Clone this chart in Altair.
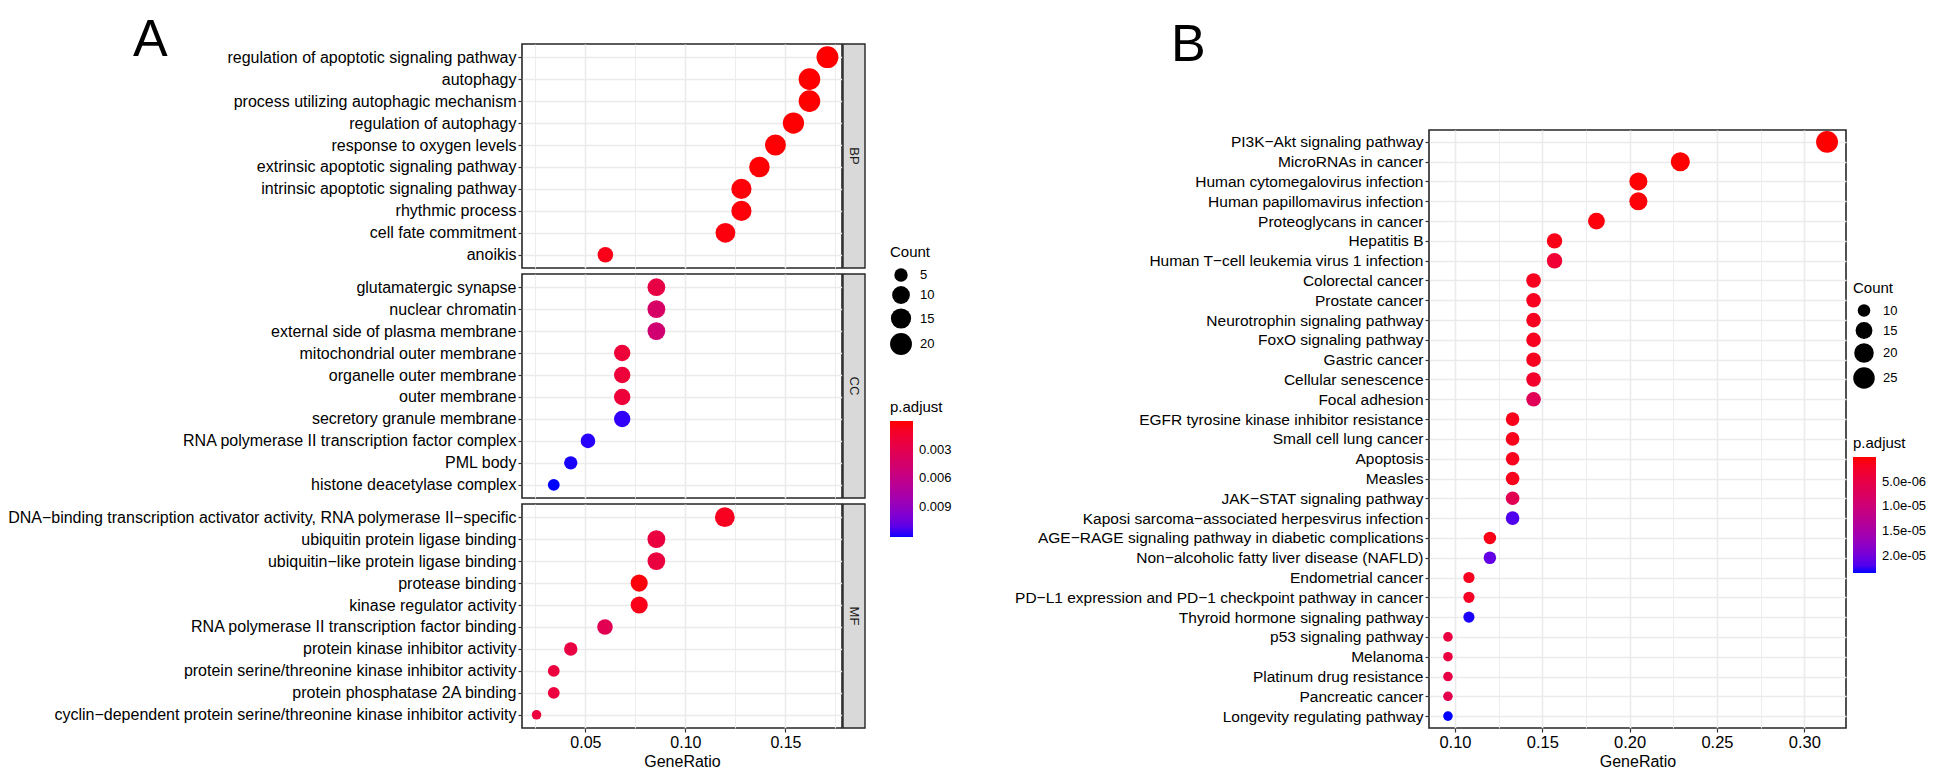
import altair as alt
import pandas as pd

FONT = "Liberation Sans, Arial, Helvetica, sans-serif"
LETTER_FONT = "Liberation Sans Narrow, Liberation Sans, Arial, sans-serif"

# ---------------- Panel A data ----------------
bp_terms = ["regulation of apoptotic signaling pathway", "autophagy",
            "process utilizing autophagic mechanism", "regulation of autophagy",
            "response to oxygen levels", "extrinsic apoptotic signaling pathway",
            "intrinsic apoptotic signaling pathway", "rhythmic process",
            "cell fate commitment", "anoikis"]
bp_ratio = [0.171, 0.162, 0.162, 0.154, 0.145, 0.137, 0.128, 0.128, 0.120, 0.060]
bp_count = [20, 19, 19, 18, 17, 16, 15, 15, 14, 7]
bp_padj = [0.00002, 0.00003, 0.00003, 0.00005, 0.00008, 0.0001, 0.0002, 0.0002, 0.0003, 0.0006]

cc_terms = ["glutamatergic synapse", "nuclear chromatin", "external side of plasma membrane",
            "mitochondrial outer membrane", "organelle outer membrane", "outer membrane",
            "secretory granule membrane", "RNA polymerase II transcription factor complex",
            "PML body", "histone deacetylase complex"]
cc_ratio = [0.0855, 0.0855, 0.0855, 0.0684, 0.0684, 0.0684, 0.0684, 0.0513, 0.0427, 0.0342]
cc_count = [10, 10, 10, 8, 8, 8, 8, 6, 5, 4]
cc_padj = [0.0025, 0.0042, 0.0048, 0.0019, 0.0019, 0.0019, 0.0118, 0.0119, 0.0120, 0.0121]

mf_terms = ["DNA−binding transcription activator activity, RNA polymerase II−specific",
            "ubiquitin protein ligase binding", "ubiquitin−like protein ligase binding",
            "protease binding", "kinase regulator activity",
            "RNA polymerase II transcription factor binding", "protein kinase inhibitor activity",
            "protein serine/threonine kinase inhibitor activity", "protein phosphatase 2A binding",
            "cyclin−dependent protein serine/threonine kinase inhibitor activity"]
mf_ratio = [0.1197, 0.0855, 0.0855, 0.0769, 0.0769, 0.0598, 0.0427, 0.0342, 0.0342, 0.0256]
mf_count = [14, 10, 10, 9, 9, 7, 5, 4, 4, 3]
mf_padj = [0.0008, 0.0022, 0.0022, 0.0002, 0.0006, 0.0032, 0.0024, 0.0021, 0.0021, 0.0021]

a_xticks = [0.025, 0.05, 0.075, 0.10, 0.125, 0.15, 0.175]
a_count_legend = [5, 10, 15, 20]
a_padj_legend = [0.003, 0.006, 0.009]

# ---------------- Panel B data ----------------
b_terms = ["PI3K−Akt signaling pathway", "MicroRNAs in cancer", "Human cytomegalovirus infection",
           "Human papillomavirus infection", "Proteoglycans in cancer", "Hepatitis B",
           "Human T−cell leukemia virus 1 infection", "Colorectal cancer", "Prostate cancer",
           "Neurotrophin signaling pathway", "FoxO signaling pathway", "Gastric cancer",
           "Cellular senescence", "Focal adhesion", "EGFR tyrosine kinase inhibitor resistance",
           "Small cell lung cancer", "Apoptosis", "Measles", "JAK−STAT signaling pathway",
           "Kaposi sarcoma−associated herpesvirus infection",
           "AGE−RAGE signaling pathway in diabetic complications",
           "Non−alcoholic fatty liver disease (NAFLD)", "Endometrial cancer",
           "PD−L1 expression and PD−1 checkpoint pathway in cancer",
           "Thyroid hormone signaling pathway", "p53 signaling pathway", "Melanoma",
           "Platinum drug resistance", "Pancreatic cancer", "Longevity regulating pathway"]
b_ratio = [0.313, 0.229, 0.205, 0.205, 0.181, 0.157, 0.157, 0.145, 0.145, 0.145, 0.145, 0.145,
           0.145, 0.145, 0.133, 0.133, 0.133, 0.133, 0.133, 0.133, 0.120, 0.120, 0.108, 0.108,
           0.108, 0.096, 0.096, 0.096, 0.096, 0.096]
b_count = [26, 19, 17, 17, 15, 13, 13, 12, 12, 12, 12, 12, 12, 12, 11, 11, 11, 11, 11, 11,
           10, 10, 9, 9, 9, 8, 8, 8, 8, 8]
b_padj = [2e-9, 5e-9, 1e-7, 3e-7, 4e-7, 1.0e-6, 3.2e-6, 1.5e-6, 1.5e-6, 1.5e-6, 1.5e-6, 1.6e-6,
          2.5e-6, 6.5e-6, 1.2e-6, 1.2e-6, 1.3e-6, 1.4e-6, 6.0e-6, 2.2e-5, 1.0e-6, 2.1e-5,
          1.5e-6, 2.0e-6, 2.33e-5, 4.5e-6, 4.5e-6, 4.8e-6, 5.5e-6, 2.35e-5]

b_xticks = [0.10, 0.125, 0.15, 0.175, 0.20, 0.225, 0.25, 0.275, 0.30]
b_count_legend = [10, 15, 20, 25]
b_padj_legend = [5e-6, 1e-5, 1.5e-5, 2e-5]

# ---------------- helpers ----------------
MAJOR = "abs(datum.value*20 - round(datum.value*20)) < 0.000001"
SIZE_RANGE = [92, 479]


def padded(vals, frac=0.05):
    lo, hi = min(vals), max(vals)
    p = (hi - lo) * frac
    return [lo - p, hi + p]


def x_axis(vals, show, fs):
    kw = dict(values=vals, grid=True, gridColor="#EBEBEB",
              gridWidth={"condition": {"test": MAJOR, "value": 1.6}, "value": 0.9},
              domain=False)
    if show:
        kw.update(labels=True, ticks=True, tickSize=4, tickWidth=1.2,
                  tickColor={"condition": {"test": MAJOR, "value": "#333333"}, "value": "transparent"},
                  labelExpr=MAJOR + " ? format(datum.value, '.2f') : ''",
                  labelFontSize=fs, labelColor="black", labelPadding=2,
                  title="GeneRatio", titleFontSize=16, titleFontWeight="normal",
                  titleColor="black", titlePadding=3)
    else:
        kw.update(labels=False, ticks=False, title=None)
    return alt.Axis(**kw)


def y_axis(fs):
    return alt.Axis(title=None, labelFontSize=fs, labelColor="black", labelLimit=2000,
                    tickColor="#333333", tickSize=4, tickWidth=1.2, domain=False,
                    grid=True, gridColor="#EBEBEB", gridWidth=1.6, labelPadding=2)


def size_legend(values, lx, ly):
    return alt.Legend(title="Count", values=values, orient="none", legendX=lx, legendY=ly,
                      symbolFillColor="black", symbolStrokeColor="black", symbolStrokeWidth=0,
                      symbolOpacity=1, symbolType="circle",
                      titleFontSize=15, titleFontWeight="normal", titleColor="black",
                      titlePadding=8, labelFontSize=13, labelColor="black", rowPadding=4,
                      labelOffset=8)


def color_legend(values, lx, ly, label_expr=None, fmt=None):
    kw = dict(title="p.adjust", values=values, orient="none", legendX=lx, legendY=ly,
              direction="vertical", gradientLength=116, gradientThickness=23,
              gradientStrokeWidth=0, titleFontSize=15, titleFontWeight="normal",
              titleColor="black", titlePadding=6, labelFontSize=13, labelColor="black",
              labelOffset=6)
    if label_expr:
        kw["labelExpr"] = label_expr
    if fmt:
        kw["format"] = fmt
    return alt.Legend(**kw)


def dot_chart(terms, ratio, count, padj, xdom, xvals, show_x, cdom, sdom, W, H, sleg, cleg,
              yfs, xfs):
    df = pd.DataFrame({"term": terms, "GeneRatio": ratio, "Count": count, "padj": padj})
    return alt.Chart(df).mark_circle(opacity=1).encode(
        x=alt.X("GeneRatio:Q", scale=alt.Scale(domain=xdom, nice=False, zero=False),
                axis=x_axis(xvals, show_x, xfs)),
        y=alt.Y("term:N", sort=terms, scale=alt.Scale(padding=0.6), axis=y_axis(yfs)),
        size=alt.Size("Count:Q", scale=alt.Scale(type="pow", exponent=0.25, domain=sdom,
                                                 range=SIZE_RANGE, zero=False), legend=sleg),
        color=alt.Color("padj:Q", scale=alt.Scale(domain=cdom, range=["blue", "red"],
                                                  interpolate="lab", nice=False, zero=False),
                        legend=cleg),
    ).properties(width=W, height=H)


def strip(label, W, H):
    sdf = pd.DataFrame({"lab": [label]})
    rect = alt.Chart(sdf).mark_rect(fill="#D9D9D9", stroke="#262626", strokeWidth=1.4).encode(
        x=alt.value(W + 1), x2=alt.value(W + 23), y=alt.value(0), y2=alt.value(H))
    txt = alt.Chart(sdf).mark_text(angle=90, fontSize=13, color="#1A1A1A", font=FONT).encode(
        text="lab:N", x=alt.value(W + 12), y=alt.value(H / 2))
    return rect + txt


def letter(ch, dx, dy):
    ldf = pd.DataFrame({"lab": [ch]})
    return alt.Chart(ldf).mark_text(fontSize=52, font=LETTER_FONT, align="left",
                                    baseline="alphabetic", color="black").encode(
        text="lab:N", x=alt.value(dx), y=alt.value(dy))


# ---------------- Panel A ----------------
WA, HA = 320, 224
A_YFS, A_XFS = 16, 16
a_all_ratio = bp_ratio + cc_ratio + mf_ratio
a_all_padj = bp_padj + cc_padj + mf_padj
a_all_count = bp_count + cc_count + mf_count
a_xdom = padded(a_all_ratio)
a_cdom = [max(a_all_padj), min(a_all_padj)]
a_sdom = [min(a_all_count), max(a_all_count)]

a_sleg = size_legend(a_count_legend, 368, 201)
a_cleg = color_legend(a_padj_legend, 368, 356, fmt=".3f")

bp = alt.layer(
    dot_chart(bp_terms, bp_ratio, bp_count, bp_padj, a_xdom, a_xticks, False,
              a_cdom, a_sdom, WA, HA, a_sleg, a_cleg, A_YFS, A_XFS),
    strip("BP", WA, HA),
    letter("A", -389, 12),
)
cc = alt.layer(
    dot_chart(cc_terms, cc_ratio, cc_count, cc_padj, a_xdom, a_xticks, False,
              a_cdom, a_sdom, WA, HA, a_sleg, a_cleg, A_YFS, A_XFS),
    strip("CC", WA, HA),
)
mf = alt.layer(
    dot_chart(mf_terms, mf_ratio, mf_count, mf_padj, a_xdom, a_xticks, True,
              a_cdom, a_sdom, WA, HA, a_sleg, a_cleg, A_YFS, A_XFS),
    strip("MF", WA, HA),
)
panel_a = alt.vconcat(bp, cc, mf, spacing=2).resolve_scale(
    x="shared", y="independent", color="shared", size="shared"
).resolve_axis(x="independent", y="independent")

# ---------------- Panel B ----------------
WB, HB = 417, 598
B_TOP = 84
b_xdom = padded(b_ratio)
b_cdom = [max(b_padj), min(b_padj)]
b_sdom = [min(b_count), max(b_count)]
b_label_expr = "replace(format(datum.value, '.1e'), 'e-', 'e-0')"

b_sleg = size_legend(b_count_legend, 424, 153 + B_TOP)
b_cleg = color_legend(b_padj_legend, 424, 308 + B_TOP, label_expr=b_label_expr)

b_spacer = letter("B", -258, 17).properties(
    width=WB, height=B_TOP, view=alt.ViewBackground(stroke="transparent"))
b_main = dot_chart(b_terms, b_ratio, b_count, b_padj, b_xdom, b_xticks, True,
                   b_cdom, b_sdom, WB, HB, b_sleg, b_cleg, 15.5, 16.5)
panel_b = alt.vconcat(b_spacer, b_main, spacing=0)

chart = alt.hconcat(panel_a, panel_b, spacing=61).resolve_scale(
    x="independent", y="independent", color="independent", size="independent"
).resolve_legend(color="independent", size="independent").properties(
    padding={"left": -3, "top": 5, "right": 0, "bottom": 0},
    background="white",
).configure_view(
    stroke="#262626", strokeWidth=1.6
).configure_axis(
    labelFont=FONT, titleFont=FONT
).configure_legend(
    labelFont=FONT, titleFont=FONT
)

chart.save("out.html", embed_options={"renderer": "svg", "actions": False})
